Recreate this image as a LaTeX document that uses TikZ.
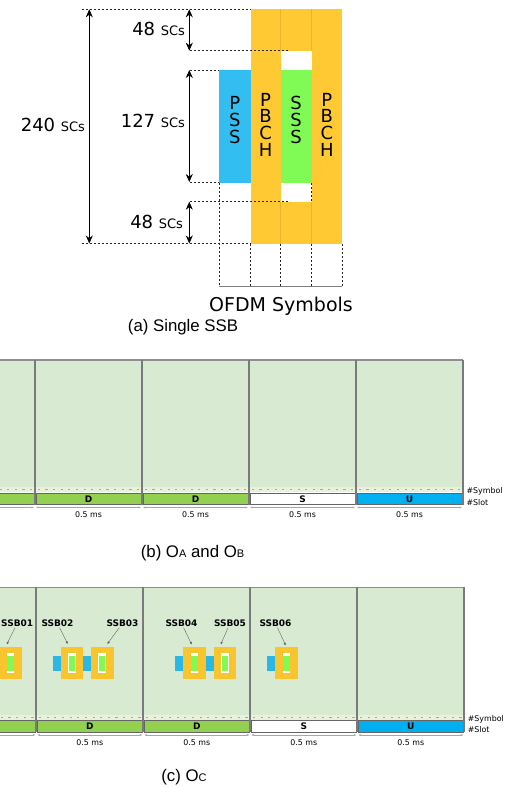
\documentclass[tikz,border=0pt]{standalone}
\usepackage{fontspec}
\setmainfont{Liberation Sans}
\newfontfamily\vfont{DejaVu Sans}
\usetikzlibrary{arrows.meta}
\definecolor{framegreen}{HTML}{D9EAD3}
\definecolor{sepgray}{HTML}{7A7A7A}
\definecolor{slotborder}{HTML}{656565}
\definecolor{slotgreen}{HTML}{92D050}
\definecolor{slotblue}{HTML}{00B0F0}
\definecolor{ssborange}{HTML}{FFC933}
\definecolor{orangeline}{HTML}{E9B52E}
\definecolor{pssblue}{HTML}{32BEF0}
\definecolor{sssgreen}{HTML}{80FA55}
\definecolor{iconorange}{HTML}{F9C52E}
\definecolor{iconblue}{HTML}{2BB7E6}
\definecolor{stripfill}{HTML}{EAF1DA}
\definecolor{ptrgray}{HTML}{595959}

% #1 top, #2 strip top, #3 x0, #4 prefix
\newcommand\drawframes[4]{%
  \fill[framegreen] (0,#1) rectangle (#3+4*107,#2);
  \fill[stripfill] (0,#2) rectangle (#3+4*107,#2+5);
  \foreach \k in {-1,...,3}{
    \foreach \j in {0,...,13}{
      \fill[gray!70] (#3+107*\k+7.643*\j+2.7,#2+2) rectangle ++(2.2,1.2);
    }
  }
  \draw[sepgray!85, line width=1.2pt] (0,#1) -- (#3+4*107,#1);
  \foreach \k/\c/\t in {-1/slotgreen/D,0/slotgreen/D,1/slotgreen/D,2/white/S,3/slotblue/U}{
    \draw[slotbox, fill=\c] (#3+107*\k+1,#2+6) rectangle (#3+107*\k+106,#2+17.5);
  }
  \foreach \k/\t in {0/D,1/D,2/S,3/U}{
    \node[slotlbl] (slot-#4-\k) at (#3+107*\k+53.5,#2+11.9) {\t};
  }
  \foreach \k in {-1,...,4}{
    \coordinate (a-#4-\k) at (#3+107*\k+1,#2+20.5);
    \coordinate (b-#4-\k) at (#3+107*\k-1,#2+20.5);
  }
  \foreach \k [evaluate=\k as \n using int(\k+1)] in {-1,...,3}{
    \draw[msarrow] (a-#4-\k) -- (b-#4-\n);
  }
  \foreach \k in {0,...,3}{
    \node[tinytxt] (ms-#4-\k) at (#3+107*\k+53.5,#2+28) {0.5 ms};
  }
  \foreach \k in {0,...,4}{
    \draw[sep] (#3+107*\k,#1) -- (#3+107*\k,#2+17.8);
  }
  \node[tinytxt, anchor=west] (sym-#4) at (#3+4*107+3.5,#2+4.5) {\#Symbol};
  \node[tinytxt, anchor=west] (slt-#4) at (#3+4*107+3.5,#2+15.3) {\#Slot};
}
\newcommand\ssbicon[1]{%
  \fill[iconorange] (#1,647.3) rectangle (#1+22.5,679.3);
  \fill[white] (#1+7.4,653.3) rectangle (#1+15.1,673.3);
  \fill[sssgreen] (#1+8.1,656) rectangle (#1+14.4,670.7);
}
\newcommand\pssicon[2]{\fill[iconblue] (#1,655.7) rectangle (#2,671);}

\begin{document}
\begin{tikzpicture}[x=1pt,y=-1pt,
  every node/.style={inner sep=0pt, outer sep=0pt},
  dashln/.style={black!85, line width=0.5pt, dash pattern=on 2pt off 2pt},
  dimarrow/.style={line width=0.7pt, {Stealth[length=8pt,width=7pt]}-{Stealth[length=8pt,width=7pt]}},
  sclabel/.style={font=\vfont\fontsize{18}{18}\selectfont, anchor=base east},
  chanlabel/.style={font=\vfont\fontsize{18}{16.8}\selectfont, align=center},
  sep/.style={draw=sepgray, line width=2pt},
  slotbox/.style={draw=slotborder, line width=1pt},
  msarrow/.style={draw=gray!70, line width=0.45pt, {Latex[length=2.4pt,width=2.2pt]}-{Latex[length=2.4pt,width=2.2pt]}},
  tinytxt/.style={font=\vfont\fontsize{7.9}{8}\selectfont},
  slotlbl/.style={font=\vfont\bfseries\fontsize{9}{9}\selectfont},
  ssblbl/.style={font=\vfont\bfseries\fontsize{9}{9}\selectfont, inner sep=1pt},
  ptr/.style={draw=ptrgray, line width=0.35pt, -{Latex[length=2.6pt,width=2.2pt]}},
  caption/.style={font=\fontsize{16.8}{18}\selectfont, anchor=base}
]
\useasboundingbox (0,0) rectangle (511,787);
\clip (0,0) rectangle (511,787);
\fill[white] (0,0) rectangle (511,787);

% ---------- (a) single SSB ----------
\fill[ssborange] (250.7,9) rectangle (342,244);
\fill[white] (280.5,50.7) rectangle (311.7,201.7);
\fill[sssgreen] (280.5,70) rectangle (311.7,182.7);
\fill[pssblue] (219,70) rectangle (250.7,182.7);
\draw[orangeline, line width=0.6pt] (280.5,9) -- (280.5,50.7) (280.5,201.7) -- (280.5,244)
  (311.7,9) -- (311.7,50.7) (311.7,201.7) -- (311.7,244);

\draw[dashln] (82,9.3) -- (250.7,9.3);
\draw[dashln] (190,50.7) -- (290,50.7);
\draw[dashln] (190,70) -- (219,70);
\draw[dashln] (190,182) -- (219,182);
\draw[dashln] (190,201.7) -- (290,201.7);
\draw[dashln] (82,243.5) -- (250.7,243.5);
\draw[dashln] (219,182.7) -- (219,286);
\draw[dashln] (250.7,244) -- (250.7,286);
\draw[dashln] (280.5,244) -- (280.5,286);
\draw[dashln] (311.7,182.7) -- (311.7,201.7);
\draw[dashln] (311.7,244) -- (311.7,286);
\draw[dashln] (342,244) -- (342,286);
\draw[gray, line width=0.6pt] (219,286) -- (342,286);

\coordinate (d240t) at (89.3,9.3);
\coordinate (d240b) at (89.3,243.5);
\coordinate (d48at) at (189.3,9.3);
\coordinate (d48ab) at (189.3,50.7);
\coordinate (d127t) at (189.3,70);
\coordinate (d127b) at (189.3,182);
\coordinate (d48bt) at (189.3,201.7);
\coordinate (d48bb) at (189.3,243.5);
\draw[dimarrow] (d240t) -- (d240b);
\draw[dimarrow] (d48at) -- (d48ab);
\draw[dimarrow] (d127t) -- (d127b);
\draw[dimarrow] (d48bt) -- (d48bb);

\node[sclabel] (l240) at (85,131.7) {240 {\fontsize{13}{13}\selectfont SCs}};
\node[sclabel] (l48a) at (185,35) {48 {\fontsize{13}{13}\selectfont SCs}};
\node[sclabel] (l127) at (185,127.7) {127 {\fontsize{13}{13}\selectfont SCs}};
\node[sclabel] (l48b) at (183,228.3) {48 {\fontsize{13}{13}\selectfont SCs}};

\node[chanlabel] (pss) at (234.8,120) {P\\S\\S};
\node[chanlabel] (pbch1) at (265.6,124.7) {P\\B\\C\\H};
\node[chanlabel] (sss) at (296.1,120) {S\\S\\S};
\node[chanlabel] (pbch2) at (326.9,124.7) {P\\B\\C\\H};

\node[font=\vfont\fontsize{19}{19}\selectfont, anchor=base] (ofdm) at (281,311.7) {OFDM Symbols};
\node[caption] (capa) at (183,331.5) {(a) Single SSB};

% ---------- (b) ----------
\drawframes{360}{487}{35}{b}
\node[caption] (capb) at (192.5,557) {(b) O{\fontsize{11}{11}\selectfont A} and O{\fontsize{11}{11}\selectfont B}};

% ---------- (c) ----------
\drawframes{587.3}{714.5}{36.3}{c}

\ssbicon{-0.8}
\pssicon{52.7}{60.7}\ssbicon{60.7}
\pssicon{82.7}{91}\ssbicon{91}
\pssicon{175}{183.3}\ssbicon{183.3}
\pssicon{205.7}{213.5}\ssbicon{213.5}
\pssicon{266.7}{275.2}\ssbicon{275.2}

\node[ssblbl] (s01) at (17.2,623.3) {SSB01};
\node[ssblbl] (s02) at (57.5,623.3) {SSB02};
\node[ssblbl] (s03) at (122.5,623.3) {SSB03};
\node[ssblbl] (s04) at (181.5,623.3) {SSB04};
\node[ssblbl] (s05) at (230,623.3) {SSB05};
\node[ssblbl] (s06) at (275.5,623.3) {SSB06};
\coordinate (t01) at (6.7,644.5);
\coordinate (t02) at (67.7,644);
\coordinate (t03) at (107.3,644);
\coordinate (t04) at (191.7,644.5);
\coordinate (t05) at (220.7,644.5);
\coordinate (t06) at (285.7,645.5);
\draw[ptr] (s01) -- (t01);
\draw[ptr] (s02) -- (t02);
\draw[ptr] (s03) -- (t03);
\draw[ptr] (s04) -- (t04);
\draw[ptr] (s05) -- (t05);
\draw[ptr] (s06) -- (t06);

\node[caption] (capc) at (184,781) {(c) O{\fontsize{11}{11}\selectfont C}};
\end{tikzpicture}
\end{document}
